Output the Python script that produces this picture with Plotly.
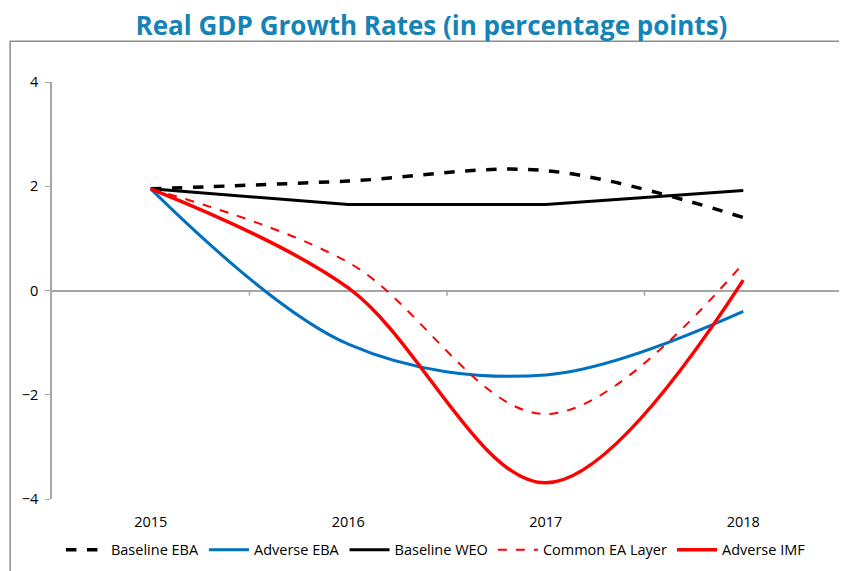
import plotly.graph_objects as go

# data
years = ["2015", "2016", "2017", "2018"]
baseline_eba = [1.95, 2.1, 2.3, 1.4]
adverse_eba = [1.95, -1.03, -1.62, -0.4]
baseline_weo = [1.95, 1.65, 1.65, 1.92]
common_ea = [1.95, 0.54, -2.37, 0.52]
adverse_imf = [1.95, 0.05, -3.69, 0.2]
y_ticks = [-4, -2, 0, 2, 4]

x = list(range(len(years)))

series = [
    ("Baseline EBA", baseline_eba, dict(color="black", width=3.5, dash="dash", shape="spline")),
    ("Adverse EBA", adverse_eba, dict(color="#0070C0", width=3, shape="spline")),
    ("Baseline WEO", baseline_weo, dict(color="black", width=3, shape="linear")),
    ("Common EA Layer", common_ea, dict(color="#FF0000", width=2, dash="dash", shape="spline")),
    ("Adverse IMF", adverse_imf, dict(color="#FF0000", width=3.5, shape="spline")),
]

fig = go.Figure()
for name, vals, line in series:
    fig.add_trace(go.Scatter(x=x, y=vals, mode="lines", name=name, line=line))

# category boundary ticks on the zero line (Excel style)
shapes = []
for i in range(len(years)):
    shapes.append(dict(type="line", xref="x", yref="y", x0=i + 0.5, x1=i + 0.5,
                       y0=0, y1=-0.1, line=dict(color="#A6A6A6", width=1.5)))
# chart area border (partly outside the picture)
shapes.append(dict(type="rect", xref="paper", yref="paper", x0=-0.053, x1=1.2,
                   y0=-0.3, y1=1.098, line=dict(color="#8C8C8C", width=1.5),
                   layer="below"))

# page body adds an 8px offset, margins compensate for it
fig.update_layout(
    width=847,
    height=571,
    margin=dict(l=44, r=13, t=74, b=80),
    paper_bgcolor="white",
    plot_bgcolor="white",
    font=dict(family="Open Sans, Lato, sans-serif", size=14.5, color="black"),
    title=dict(
        text="<b>Real GDP Growth Rates (in percentage points)</b>",
        x=0.5, xanchor="center", y=0.968, yanchor="middle",
        font=dict(family="Open Sans, sans-serif", size=26, color="#1583B5"),
    ),
    xaxis=dict(
        range=[-0.5, 3.5],
        tickmode="array",
        tickvals=x,
        ticktext=years,
        showgrid=False,
        zeroline=False,
        showline=False,
        ticks="",
        ticklabelstandoff=12,
        tickfont=dict(size=14.5),
    ),
    yaxis=dict(
        range=[-4, 4],
        tickvals=y_ticks,
        showgrid=False,
        zeroline=True,
        zerolinecolor="#A6A6A6",
        zerolinewidth=1.5,
        showline=True,
        linecolor="#A6A6A6",
        linewidth=1.5,
        ticks="outside",
        ticklen=5,
        tickcolor="#A6A6A6",
        ticklabelstandoff=4,
        tickfont=dict(size=14.5),
    ),
    legend=dict(
        orientation="h",
        x=0.486, xanchor="center",
        y=-0.122, yanchor="middle",
        font=dict(size=14.5),
        itemwidth=40,
        tracegroupgap=0,
    ),
    shapes=shapes,
)

fig.write_html("out.html")
